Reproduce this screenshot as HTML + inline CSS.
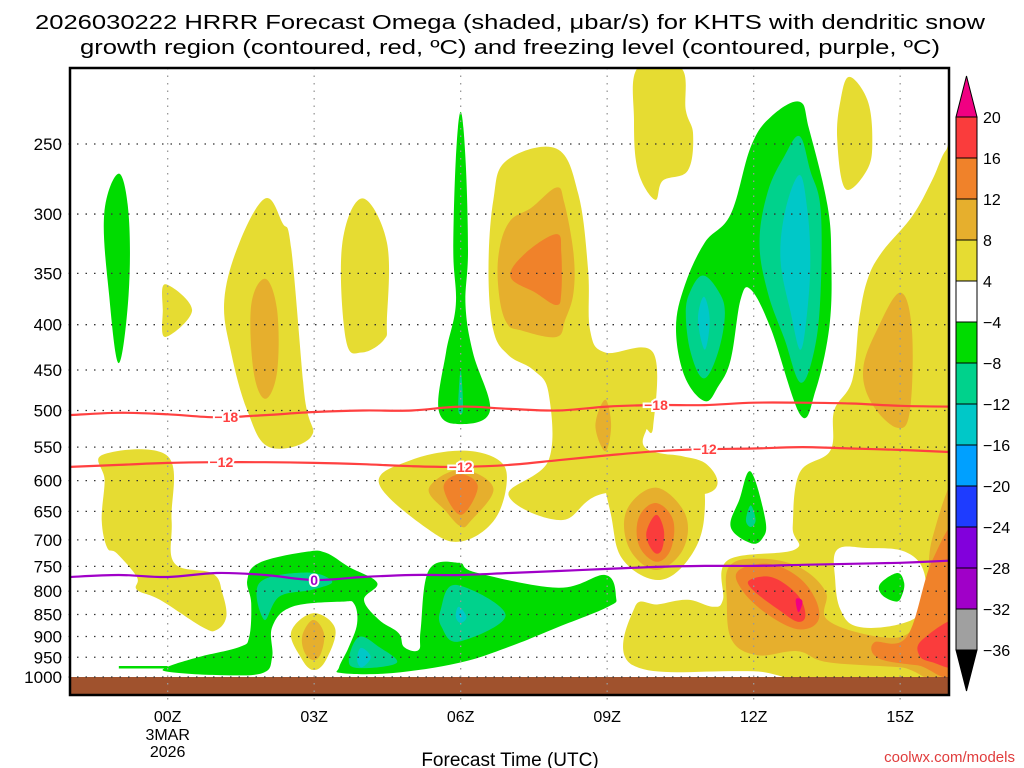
<!DOCTYPE html>
<html><head><meta charset="utf-8"><style>
html,body{margin:0;padding:0;background:#fff;}
svg{display:block;font-family:"Liberation Sans",sans-serif;}
</style></head><body>
<svg id="chart" width="1024" height="768" viewBox="0 0 1024 768" xmlns="http://www.w3.org/2000/svg">
<text x="510" y="29" text-anchor="middle" font-size="20" textLength="950" lengthAdjust="spacingAndGlyphs">2026030222 HRRR Forecast Omega (shaded, μbar/s) for KHTS with dendritic snow</text>
<text x="510" y="54" text-anchor="middle" font-size="20" textLength="860" lengthAdjust="spacingAndGlyphs">growth region (contoured, red, ºC) and freezing level (contoured, purple, ºC)</text>
<defs><clipPath id="plotClip"><rect x="70" y="68" width="879" height="627"/></clipPath></defs>
<g id="fills" clip-path="url(#plotClip)"></g>
<g id="grid"></g>
<g id="lines" clip-path="url(#plotClip)"></g>
<g id="axes"></g>
<g id="cbar"></g>
<text x="510" y="766" text-anchor="middle" font-size="19">Forecast Time (UTC)</text>
<text x="1015" y="762" text-anchor="end" font-size="15" fill="#e03c3c">coolwx.com/models</text>
</svg>
<script>
const pressureTicks=[250,300,350,400,450,500,550,600,650,700,750,800,850,900,950,1000];
const timeTicks=[0,3,6,9,12,15];
const timeLabels=["00Z","03Z","06Z","09Z","12Z","15Z"];
const lineHours=[-2,-1,0,1,2,3,4,5,6,7,8,9,10,11,12,13,14,15,16];
const freezingLevel=[771,767,771,763,767,777,771,767,767,763,759,755,751,749,749,747,745,743,739];
const minus18Level=[506,503,505,509,506,502,500,500,495,498,500,495,493,493,490,490,491,494,495];
const minus12Level=[579,576,573,572,572,573,575,578,579,576,569,562,556,553,552,550,552,554,557];
const cbarLevels=["20","16","12","8","4","−4","−8","−12","−16","−20","−24","−28","−32","−36"];
const cbarColors=["#fa3c3c","#f0822a","#e6af2d","#e6dc32","#ffffff","#00dc00","#00d28c","#00c8c8","#00a0ff","#1e3cff","#8200dc","#a000c8","#a0a0a0"];

const yellowRegions=[
 [[9.63,205],[10.51,205],[10.61,229],[10.76,244],[10.65,268],[10.14,275],[9.98,289],[9.63,268],[9.55,235]],
 [[13.96,210],[14.33,223],[14.43,247],[14.33,267],[13.88,281],[13.71,247],[13.78,223]],
 [[-0.05,360],[0.5,385],[-0.05,413],[-0.1,385]],
 [[2.0,288],[2.35,307],[2.53,328],[2.8,480],[2.94,535],[2.08,550],[1.63,500],[1.3,430],[1.16,375],[1.47,323]],
 [[3.98,288],[4.49,323],[4.49,395],[4.43,416],[3.98,430],[3.65,416],[3.57,326]],
 [[6.94,261],[7.96,253],[8.41,285],[8.61,347],[8.65,406],[8.96,430],[9.94,430],[9.94,522],[9.8,526],[9.84,554],[11.0,573],[11.06,620],[8.96,620],[8.06,665],[6.98,623],[7.8,569],[7.8,478],[7.49,450],[6.98,433],[6.67,406],[6.57,347],[6.67,289]],
 [[4.33,605],[4.94,570],[6,555],[6.78,569],[6.94,605],[6.67,667],[6,703],[5.35,682]],
 [[9.0,573],[10.04,560],[10.86,578],[10.98,665],[10.65,738],[10.04,777],[9.33,738],[9.1,665]],
 [[15.94,254],[15.65,275],[15.24,302],[14.63,331],[14.33,356],[14.16,395],[14.02,462],[13.65,500],[13.57,555],[12.94,588],[12.8,677],[12.84,718],[11.47,738],[11.37,818],[11.16,833],[10.65,818],[10.04,828],[9.57,833],[9.53,970],[12,985],[16.2,985],[16.2,254]],
 [[-1.33,561],[0,563],[0.08,665],[0.14,744],[0.92,764],[1.12,804],[1.2,855],[1.0,885],[0.71,878],[-0.16,818],[-0.63,797],[-0.63,771],[-1.04,725],[-1.24,714],[-1.35,665],[-1.29,600]],
 [[2.98,847],[3.43,882],[3.24,957],[2.98,982],[2.73,951],[2.53,889]]
];
const whiteRegions=[
 [[13.71,718],[14.33,715],[15.1,722],[15.49,762],[15.45,840],[14.94,873],[14.12,877],[13.78,840],[13.67,777]]
];
const goldRegions=[
 [[2.0,355],[2.24,385],[2.24,452],[2.0,485],[1.76,452],[1.71,380]],
 [[7.96,280],[8.12,291],[8.31,332],[8.31,368],[8.14,395],[7.96,413],[7.24,406],[6.94,398],[6.78,368],[6.78,332],[7.0,306],[7.45,295]],
 [[8.96,486],[9.08,520],[8.96,556],[8.76,520]],
 [[15.0,368],[15.24,405],[15.2,500],[14.94,523],[14.43,492],[14.24,450],[14.53,405]],
 [[5.35,612],[6,583],[6.67,612],[6.2,667],[6,676],[5.7,650]],
 [[10,611],[10.6,655],[10.55,718],[10,757],[9.45,715],[9.4,648]],
 [[11.5,750],[12.08,735],[12.9,750],[13.47,800],[13.51,862],[14.53,900],[15.2,890],[15.55,818],[15.65,700],[16.2,605],[16.2,988],[15,975],[13.51,962],[12.9,935],[12.08,945],[11.55,908],[11.45,818]],
 [[2.98,862],[3.2,892],[3.14,940],[2.98,957],[2.8,937],[2.76,897]]
];
const orangeRegions=[
 [[7.96,316],[8.06,332],[8.06,368],[7.96,380],[7.53,368],[7.02,353],[7.33,332]],
 [[6,590],[6.35,610],[6,656],[5.65,610]],
 [[10,636],[10.35,665],[10.3,718],[10,741],[9.65,710],[9.65,660]],
 [[11.67,760],[12.29,745],[12.9,770],[13.27,818],[13.31,866],[12.9,883],[12.29,850],[11.78,800]],
 [[14.47,914],[15.14,900],[15.65,740],[16.2,681],[16.2,976],[15.35,970],[14.55,952]]
];
const redRegions=[
 [[10,656],[10.16,682],[10.12,718],[9.96,723],[9.8,690]],
 [[11.92,777],[12.39,772],[12.9,808],[13.06,851],[12.9,866],[12.49,838],[11.98,797]],
 [[15.45,908],[16.2,862],[16.2,970],[15.65,962],[15.39,945]]
];
const magentaRegions=[
 [[12.9,815],[13.0,822],[12.92,845],[12.86,822]]
];
const greenRegions=[
 [[-1.0,270],[-0.8,300],[-0.8,370],[-1.0,442],[-1.2,370],[-1.3,300]],
 [[6.0,230],[6.1,260],[6.15,330],[6.1,380],[6.25,430],[6.6,500],[6.0,518],[5.55,500],[5.7,430],[5.9,380],[5.85,330],[5.9,260]],
 [[12.94,224],[13.14,241],[13.51,293],[13.59,338],[13.55,402],[13.27,474],[12.96,506],[12.35,404],[11.94,365],[11.73,375],[11.53,438],[11.27,470],[11.0,488],[10.59,458],[10.41,404],[10.59,361],[11.0,323],[11.53,300],[11.94,252],[12.35,233]],
 [[11.94,586],[12.24,665],[12.18,697],[11.94,706],[11.53,677],[11.71,630]],
 [[14.94,763],[15.08,782],[15.04,808],[14.92,822],[14.63,808],[14.59,785]],
 [[-0.02,975],[0.65,949],[1.47,925],[1.67,901],[1.71,825],[1.63,777],[1.88,743],[2.84,722],[3.24,724],[3.71,751],[4.29,783],[4.02,818],[4.33,862],[4.73,892],[4.84,925],[5.14,932],[5.18,885],[5.35,757],[5.96,743],[6.31,762],[8.0,793],[8.96,767],[9.18,812],[9.02,833],[8.0,878],[6.98,925],[5.96,964],[4.59,990],[3.57,990],[3.51,975],[3.71,925],[3.88,870],[3.82,827],[3.57,822],[2.55,833],[2.14,878],[2.14,949],[1.94,990],[1.06,995],[0.04,987]]
];
const tealRegions=[
 [[6.0,450],[6.05,495],[6.0,505],[5.95,495]],
 [[12.94,245],[13.16,268],[13.37,296],[13.37,368],[13.24,428],[12.96,465],[12.63,415],[12.29,368],[12.12,323],[12.29,283],[12.63,258]],
 [[10.96,352],[11.27,366],[11.41,388],[11.27,430],[10.98,460],[10.71,430],[10.61,388],[10.71,366]],
 [[11.94,640],[12.04,665],[11.94,677],[11.84,665]],
 [[1.88,783],[2.84,762],[3.37,780],[2.96,797],[2.29,811],[1.98,862]],
 [[3.92,901],[4.33,925],[4.69,964],[3.92,977],[3.71,957]],
 [[5.9,787],[6.92,851],[5.96,912],[5.61,878],[5.59,840]]
];
const cyanRegions=[
 [[12.94,271],[13.1,297],[13.16,338],[13.1,385],[12.96,427],[12.76,388],[12.55,338],[12.65,297]],
 [[10.98,372],[11.1,395],[11.0,427],[10.86,395]],
 [[3.96,927],[4.16,949],[3.98,975],[3.88,957]],
 [[5.96,833],[6.12,855],[6.0,869],[5.9,855]]
];

const NS="http://www.w3.org/2000/svg";
const X0=70,X1=949,Y0=68,Y1=695;
function xScale(h){return X0+(h+2)*(X1-X0)/18;}
function yScale(p){return 677-384.5*Math.log(1000/p);}
function mk(tag,attrs,parent){const e=document.createElementNS(NS,tag);for(const k in attrs)e.setAttribute(k,attrs[k]);parent.appendChild(e);return e;}
function smoothPath(pts,closed){
  const P=pts.map(d=>[xScale(d[0]),yScale(d[1])]);const n=P.length;
  let s="M"+P[0][0].toFixed(1)+","+P[0][1].toFixed(1);
  const last=closed?n:n-1;
  for(let i=0;i<last;i++){
    const p0=P[closed?(i-1+n)%n:Math.max(i-1,0)],p1=P[i],p2=P[(i+1)%n],p3=P[closed?(i+2)%n:Math.min(i+2,n-1)];
    const t=0.18;
    const c1=[p1[0]+(p2[0]-p0[0])*t,p1[1]+(p2[1]-p0[1])*t];
    const c2=[p2[0]-(p3[0]-p1[0])*t,p2[1]-(p3[1]-p1[1])*t];
    s+="C"+c1[0].toFixed(1)+","+c1[1].toFixed(1)+" "+c2[0].toFixed(1)+","+c2[1].toFixed(1)+" "+p2[0].toFixed(1)+","+p2[1].toFixed(1);
  }
  return s+(closed?"Z":"");
}
const fills=document.getElementById('fills');
function drawRegions(list,color,name){
  list.forEach(r=>{
    const e=mk('path',{d:smoothPath(r,true),fill:color},fills);
    
    
  });
}
drawRegions(yellowRegions,"#e6dc32","omega-4-8-region");
drawRegions(whiteRegions,"#ffffff","omega-neutral-region");
drawRegions(goldRegions,"#e6af2d","omega-8-12-region");
drawRegions(orangeRegions,"#f0822a","omega-12-16-region");
drawRegions(redRegions,"#fa3c3c","omega-16-20-region");
drawRegions(magentaRegions,"#f00082","omega-above-20-region");
drawRegions(greenRegions,"#00dc00","omega-minus4-8-region");
drawRegions(tealRegions,"#00d28c","omega-minus8-12-region");
drawRegions(cyanRegions,"#00c8c8","omega-minus12-16-region");
const lowLine=mk('line',{x1:xScale(-1),x2:xScale(0),y1:yScale(975),y2:yScale(975),stroke:"#00dc00","stroke-width":2.5},fills);


const ground=mk('rect',{x:X0,y:yScale(1000),width:X1-X0,height:Y1-yScale(1000),fill:"#a0522d"},fills);



const grid=document.getElementById('grid');
pressureTicks.forEach(p=>{
  const y=yScale(p);
  const g=mk('line',{x1:60,x2:X1,y1:y,y2:y,stroke:"#333","stroke-width":1.3,"stroke-dasharray":"1.5,7"},grid);
  
  
});
timeTicks.forEach(h=>{
  const x=xScale(h);
  const g=mk('line',{x1:x,x2:x,y1:Y0,y2:Y1+8,stroke:"#999","stroke-width":1.3,"stroke-dasharray":"1.5,6"},grid);
  
  
});

const lines=document.getElementById('lines');
function contour(vals,color,name,labels,lbl){
  const pts=lineHours.map((h,i)=>[h,vals[i]]);
  const e=mk('path',{d:smoothPath(pts,false),fill:"none",stroke:color,"stroke-width":2.2},lines);
  
  
  labels.forEach(h=>{
    const i=lineHours.indexOf(Math.floor(h));
    const v=vals[i]+(vals[i+1]-vals[i])*(h-Math.floor(h));
    const x=xScale(h),y=yScale(v);
    const t=mk('text',{x:x,y:y+5,"text-anchor":"middle","font-size":14,"font-weight":"bold",fill:color,stroke:"#fff","stroke-width":4,"paint-order":"stroke"},lines);
    t.textContent=lbl;
    
    
  });
}
contour(minus18Level,"#ff4040","minus18-contour",[1.2,10.0],"−18");
contour(minus12Level,"#ff4040","minus12-contour",[1.1,6.0,11.0],"−12");
contour(freezingLevel,"#a000c8","freezing-level-contour",[3.0],"0");

const axes=document.getElementById('axes');
const frame=mk('rect',{x:X0,y:Y0,width:X1-X0,height:Y1-Y0,fill:"none",stroke:"#000","stroke-width":2.5},axes);


pressureTicks.forEach(p=>{
  const t=mk('text',{x:62,y:yScale(p)+6,"text-anchor":"end","font-size":17},axes);
  t.textContent=p;
  
  
});
timeTicks.forEach((h,i)=>{
  const t=mk('text',{x:xScale(h),y:722,"text-anchor":"middle","font-size":16},axes);
  t.textContent=timeLabels[i];
  
  
});
const d1=mk('text',{x:xScale(0),y:740,"text-anchor":"middle","font-size":16},axes);
d1.textContent="3MAR";


const d2=mk('text',{x:xScale(0),y:757,"text-anchor":"middle","font-size":16},axes);
d2.textContent="2026";



const cbar=document.getElementById('cbar');
const cbTop=117,cbBot=650,cbX=956,cbW=21;
const step=(cbBot-cbTop)/(cbarLevels.length-1);
const tri1=mk('polygon',{points:`${cbX},${cbTop} ${cbX+cbW},${cbTop} ${cbX+cbW/2},${cbTop-41}`,fill:"#f00082",stroke:"#000","stroke-width":1},cbar);


cbarColors.forEach((c,i)=>{
  const r=mk('rect',{x:cbX,y:cbTop+i*step,width:cbW,height:step,fill:c,stroke:"#000","stroke-width":1},cbar);
  
  
});
const tri2=mk('polygon',{points:`${cbX},${cbBot} ${cbX+cbW},${cbBot} ${cbX+cbW/2},${cbBot+41}`,fill:"#000",stroke:"#000","stroke-width":1},cbar);


cbarLevels.forEach((l,i)=>{
  const t=mk('text',{x:cbX+cbW+6,y:cbTop+i*step+6,"font-size":16},cbar);
  t.textContent=l;
  
  
});
</script>
</body></html>
